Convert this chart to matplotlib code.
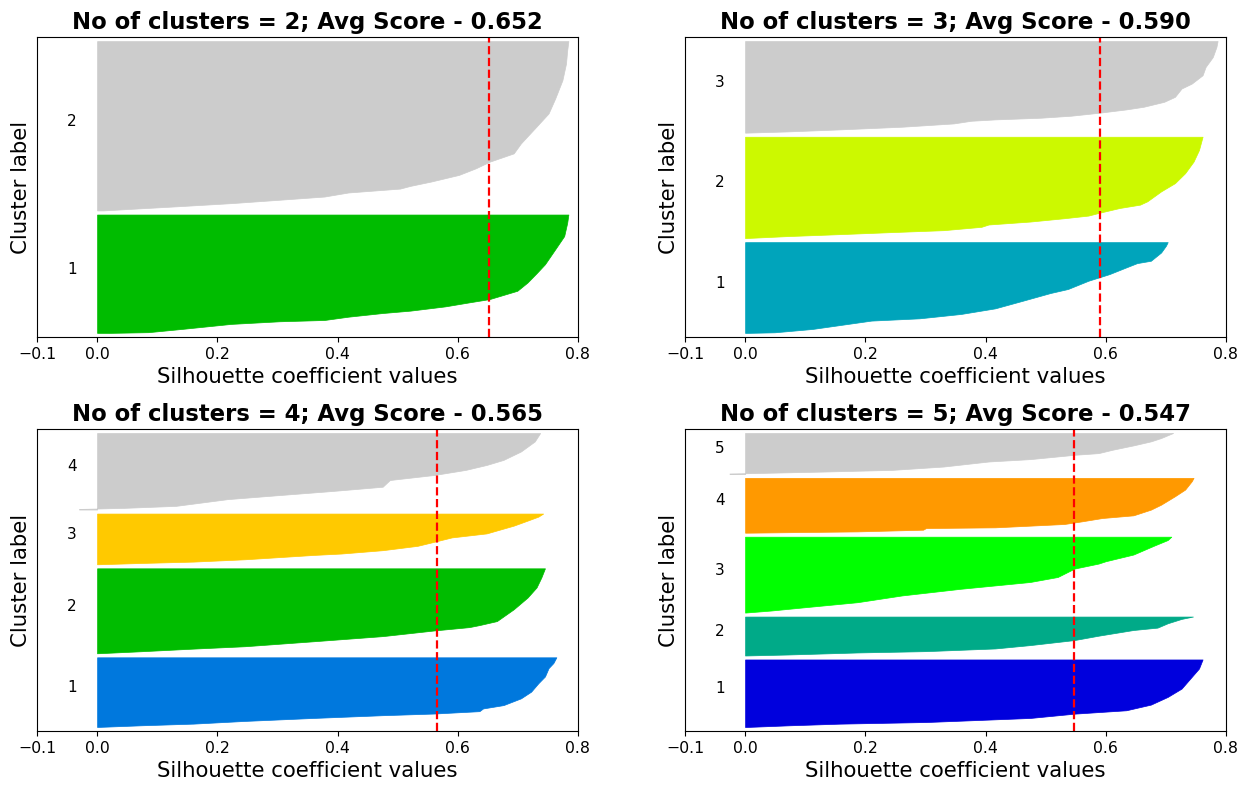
import numpy as np
import matplotlib
matplotlib.use("Agg")
import matplotlib.pyplot as plt
from matplotlib import cm

# Silhouette analysis of KMeans runs with k = 2..5
n_clusters_list = [2, 3, 4, 5]
avg_scores = [0.652, 0.590, 0.565, 0.547]

# samples per cluster (cluster 1 first)
sizes_k2 = [288, 412]
sizes_k3 = [224, 250, 226]
sizes_k4 = [173, 211, 126, 190]
sizes_k5 = [170, 98, 191, 138, 103]

# sorted silhouette profiles: share of the cluster (0 = lowest sample) and coefficient
rank_k2 = [
    [0.0, 0.006, 0.034, 0.076, 0.098, 0.109, 0.137, 0.168, 0.188, 0.224, 0.258, 0.286,
     0.356, 0.426, 0.504, 0.58, 0.706, 0.818, 0.93, 1.0],
    [0.0, 0.008, 0.024, 0.043, 0.063, 0.082, 0.106, 0.129, 0.145, 0.171, 0.21, 0.249,
     0.288, 0.337, 0.396, 0.484, 0.573, 0.661, 0.769, 0.867, 0.945, 1.0],
]
sil_k2 = [
    [0.02, 0.085, 0.142, 0.223, 0.303, 0.378, 0.418, 0.475, 0.521, 0.579, 0.619, 0.653,
     0.699, 0.716, 0.731, 0.745, 0.762, 0.777, 0.782, 0.784],
    [0.01, 0.05, 0.131, 0.223, 0.303, 0.378, 0.418, 0.504, 0.521, 0.556, 0.602, 0.630,
     0.653, 0.693, 0.705, 0.728, 0.751, 0.762, 0.774, 0.78, 0.782, 0.784],
]

rank_k3 = [
    [0.0, 0.007, 0.044, 0.136, 0.161, 0.209, 0.271, 0.355, 0.44, 0.484, 0.575, 0.648,
     0.722, 0.769, 0.795, 0.886, 0.96, 1.0],
    [0.0, 0.02, 0.039, 0.059, 0.078, 0.111, 0.134, 0.163, 0.196, 0.222, 0.248, 0.297,
     0.33, 0.363, 0.461, 0.542, 0.641, 0.755, 0.869, 1.0],
    [0.0, 0.014, 0.036, 0.065, 0.101, 0.13, 0.145, 0.163, 0.185, 0.217, 0.254, 0.283,
     0.337, 0.391, 0.482, 0.536, 0.627, 0.717, 0.826, 0.935, 1.0],
]
sil_k3 = [
    [0.0, 0.049, 0.112, 0.21, 0.29, 0.359, 0.416, 0.462, 0.508, 0.537, 0.571, 0.606,
     0.634, 0.652, 0.675, 0.692, 0.70, 0.703],
    [0.0, 0.072, 0.158, 0.244, 0.33, 0.393, 0.405, 0.474, 0.531, 0.571, 0.588, 0.623,
     0.657, 0.669, 0.692, 0.715, 0.732, 0.746, 0.755, 0.761],
    [0.0, 0.072, 0.158, 0.261, 0.347, 0.376, 0.416, 0.491, 0.542, 0.588, 0.634, 0.663,
     0.697, 0.715, 0.726, 0.743, 0.761, 0.766, 0.778, 0.784, 0.786],
]

rank_k4 = [
    [0.0, 0.024, 0.048, 0.087, 0.13, 0.169, 0.193, 0.227, 0.266, 0.314, 0.411, 0.507,
     0.628, 0.725, 0.845, 0.918, 1.0],
    [0.0, 0.024, 0.055, 0.083, 0.142, 0.202, 0.269, 0.308, 0.332, 0.379, 0.518, 0.656,
     0.775, 0.893, 1.0],
    [0.0, 0.026, 0.053, 0.099, 0.185, 0.212, 0.278, 0.364, 0.43, 0.53, 0.609, 0.762,
     0.861, 0.94, 1.0],
    [0.0, 0.008, 0.013, 0.022, 0.048, 0.136, 0.189, 0.241, 0.298, 0.386, 0.452, 0.518,
     0.583, 0.649, 0.759, 0.89, 1.0],
]
sil_k4 = [
    [0.0, 0.073, 0.16, 0.246, 0.361, 0.475, 0.561, 0.636, 0.642, 0.676, 0.705, 0.722,
     0.734, 0.745, 0.751, 0.759, 0.764],
    [0.0, 0.073, 0.16, 0.246, 0.361, 0.475, 0.561, 0.619, 0.636, 0.665, 0.693, 0.716,
     0.731, 0.739, 0.745],
    [0.0, 0.073, 0.16, 0.246, 0.361, 0.406, 0.475, 0.533, 0.556, 0.59, 0.648, 0.693,
     0.716, 0.734, 0.742],
    [-0.03, -0.03, 0.0, 0.045, 0.131, 0.217, 0.303, 0.389, 0.475, 0.487, 0.561, 0.613,
     0.648, 0.676, 0.705, 0.728, 0.737],
]

rank_k5 = [
    [0.0, 0.025, 0.05, 0.074, 0.134, 0.198, 0.248, 0.332, 0.446, 0.569, 0.743, 0.866, 1.0],
    [0.0, 0.026, 0.078, 0.112, 0.181, 0.267, 0.397, 0.509, 0.655, 0.716, 0.828, 0.94, 1.0],
    [0.0, 0.027, 0.071, 0.137, 0.226, 0.314, 0.403, 0.469, 0.58, 0.646, 0.677, 0.765,
     0.881, 0.956, 1.0],
    [0.0, 0.024, 0.055, 0.085, 0.098, 0.159, 0.207, 0.268, 0.317, 0.421, 0.512, 0.665,
     0.787, 0.939, 1.0],
    [0.0, 0.01, 0.016, 0.057, 0.098, 0.18, 0.303, 0.361, 0.467, 0.508, 0.59, 0.697,
     0.795, 0.877, 1.0],
]
sil_k5 = [
    [0.0, 0.072, 0.158, 0.301, 0.474, 0.548, 0.634, 0.675, 0.703, 0.726, 0.743, 0.755, 0.761],
    [0.0, 0.072, 0.187, 0.301, 0.416, 0.474, 0.548, 0.588, 0.646, 0.686, 0.703, 0.726, 0.745],
    [0.0, 0.043, 0.1, 0.187, 0.261, 0.359, 0.474, 0.52, 0.548, 0.588, 0.6, 0.646,
     0.68, 0.703, 0.709],
    [0.0, 0.187, 0.296, 0.301, 0.416, 0.531, 0.56, 0.594, 0.646, 0.675, 0.692, 0.715,
     0.732, 0.743, 0.746],
    [-0.026, -0.026, 0.0, 0.129, 0.244, 0.33, 0.405, 0.474, 0.548, 0.588, 0.611, 0.646,
     0.675, 0.692, 0.712],
]

x_ticks = [-0.1, 0.0, 0.2, 0.4, 0.6, 0.8]

sizes_all = [sizes_k2, sizes_k3, sizes_k4, sizes_k5]
ranks_all = [rank_k2, rank_k3, rank_k4, rank_k5]
sils_all = [sil_k2, sil_k3, sil_k4, sil_k5]

W, H = 1251, 787
fig = plt.figure(figsize=(W / 100, H / 100), dpi=100)

# axes boxes in pixels: left, top, width, height
boxes = [(37, 37, 541, 300), (685, 37, 541, 300),
         (37, 429, 541, 302), (685, 429, 541, 302)]

for k, avg, sizes, ranks, sils, (bx, by, bw, bh) in zip(
        n_clusters_list, avg_scores, sizes_all, ranks_all, sils_all, boxes):
    ax = fig.add_axes([bx / W, 1 - (by + bh) / H, bw / W, bh / H])
    y_lower = 10
    for i in range(k):
        size = sizes[i]
        y = y_lower + np.asarray(ranks[i]) * size
        color = cm.nipy_spectral(float(i + 1) / k)
        ax.fill_betweenx(y, 0, sils[i], facecolor=color, edgecolor=color, linewidth=0.5)
        ax.text(-0.05, y_lower + 0.5 * size, str(i + 1), fontsize=11)
        y_lower += size + 10

    ax.axvline(x=avg, color="red", linestyle="--", linewidth=1.6)
    ax.set_xlim(-0.1, 0.8)
    ax.set_ylim(0, sum(sizes) + (k + 1) * 10)
    ax.set_xticks(x_ticks)
    ax.set_yticks([])
    ax.tick_params(axis="x", labelsize=11.3)
    ax.set_xlabel("Silhouette coefficient values", fontsize=15.3)
    ax.set_ylabel("Cluster label", fontsize=15.3)
    ax.set_title(f"No of clusters = {k}; Avg Score - {avg:.3f}",
                 fontsize=16.4, fontweight="bold")

fig.savefig("out.png", dpi=100)
